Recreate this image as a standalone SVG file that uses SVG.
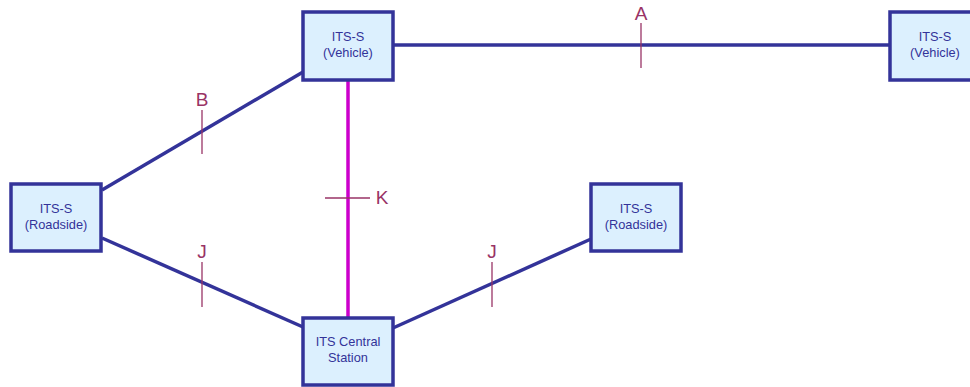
<svg xmlns="http://www.w3.org/2000/svg" width="970" height="387" viewBox="0 0 970 387">
  <style>
    .box { fill: #dcf0fe; stroke: #333399; stroke-width: 3.5; }
    .txt { font-family: "Liberation Sans", Arial, sans-serif; font-size: 12.8px; fill: #333399; text-anchor: middle; }
    .link { stroke: #333399; stroke-width: 3.5; fill: none; }
    .klink { stroke: #cc00cc; stroke-width: 3.5; fill: none; }
    .tick { stroke: #993366; stroke-width: 1.3; }
    .lbl { font-family: "Liberation Sans", Arial, sans-serif; font-size: 19px; fill: #993366; text-anchor: middle; }
  </style>
  <rect width="970" height="387" fill="#ffffff"/>

  <g id="connectors">
    <!-- A: vehicle to vehicle -->
    <line class="link" x1="393" y1="45" x2="890" y2="45"/>
    <line class="tick" x1="641" y1="23" x2="641" y2="68"/>
    <text class="lbl" x="641" y="20">A</text>
    <!-- B: roadside to vehicle -->
    <line class="link" x1="102" y1="190" x2="303" y2="72"/>
    <line class="tick" x1="202" y1="110" x2="202" y2="154"/>
    <text class="lbl" x="202" y="106">B</text>
    <!-- J: roadside to central station -->
    <line class="link" x1="102" y1="238" x2="303" y2="327"/>
    <line class="tick" x1="202" y1="262" x2="202" y2="307"/>
    <text class="lbl" x="202" y="258">J</text>
    <!-- J: central station to roadside -->
    <line class="link" x1="393" y1="328" x2="591" y2="239"/>
    <line class="tick" x1="492" y1="262" x2="492" y2="307"/>
    <text class="lbl" x="492" y="258">J</text>
    <!-- K: vehicle to central station -->
    <line class="klink" x1="348" y1="80" x2="348" y2="318"/>
    <line class="tick" x1="325" y1="198" x2="370" y2="198"/>
    <text class="lbl" x="382" y="204">K</text>
  </g>

  <g id="vehicle-top">
    <rect class="box" x="303" y="12" width="90" height="68"/>
    <text class="txt" x="348" y="41">ITS-S</text>
    <text class="txt" x="348" y="57">(Vehicle)</text>
  </g>

  <g id="vehicle-right">
    <rect class="box" x="890" y="12" width="90" height="68"/>
    <text class="txt" x="935" y="41">ITS-S</text>
    <text class="txt" x="935" y="57">(Vehicle)</text>
  </g>

  <g id="roadside-left">
    <rect class="box" x="11" y="184" width="90" height="67"/>
    <text class="txt" x="56" y="213">ITS-S</text>
    <text class="txt" x="56" y="229">(Roadside)</text>
  </g>

  <g id="roadside-right">
    <rect class="box" x="591" y="184" width="90" height="67"/>
    <text class="txt" x="636" y="213">ITS-S</text>
    <text class="txt" x="636" y="229">(Roadside)</text>
  </g>

  <g id="central-station">
    <rect class="box" x="303" y="318" width="90" height="67"/>
    <text class="txt" x="348" y="346">ITS Central</text>
    <text class="txt" x="348" y="362">Station</text>
  </g>
</svg>
